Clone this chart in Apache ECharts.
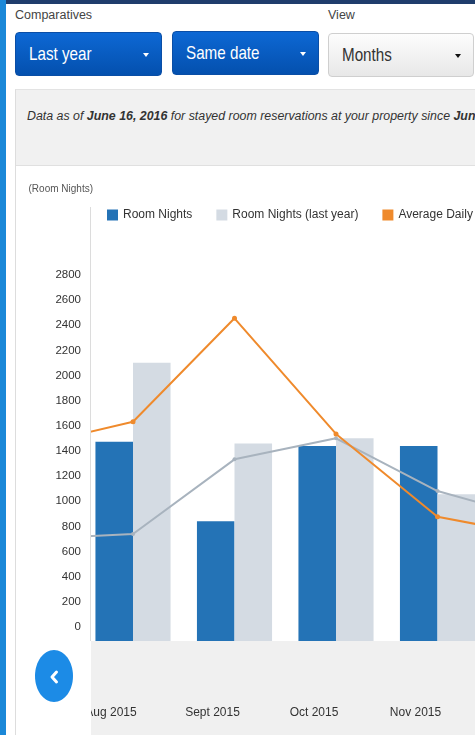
<!DOCTYPE html>
<html><head><meta charset="utf-8">
<script src="https://cdn.jsdelivr.net/npm/echarts@6/dist/echarts.min.js"></script>
<style>
html,body{margin:0;padding:0;width:475px;height:735px;overflow:hidden;background:#fff;font-family:"Liberation Sans",Arial,sans-serif;}
.abs{position:absolute;}
#strip{left:0;top:0;width:6px;height:735px;background:#1b88d8;}
#topbar{left:6px;top:0;width:469px;height:4px;background:#1f3d6c;}
.lbl{font-size:12.5px;color:#444;top:8px;}
.btn{top:32px;height:44px;width:147px;border-radius:4px;box-sizing:border-box;font-size:19px;line-height:42px;padding-left:13px;white-space:nowrap;}
.btn .t{display:inline-block;transform:scaleX(0.8);transform-origin:0 50%;}
.blue{background:linear-gradient(#0d68d4,#0450ae);color:#fff;border:1px solid #0a4ea6;}
.grey{background:linear-gradient(#fdfdfd,#e8e8e8);color:#333;border:1px solid #cfcfcf;}
.caret{position:absolute;right:12px;top:20px;width:0;height:0;border-left:3.5px solid transparent;border-right:3.5px solid transparent;border-top:4px solid #fff;}
.grey .caret{border-top-color:#111;}
#panel{left:15px;top:89px;width:470px;height:77px;background:#f1f1f1;border-top:1px solid #e3e3e3;border-bottom:1px solid #e0e0e0;border-left:1px solid #ddd;box-sizing:border-box;}
#ptext{position:absolute;left:11px;top:19px;font-size:12.5px;font-style:italic;color:#333;white-space:nowrap;transform:scaleX(0.99);transform-origin:0 50%;}
#vline{left:15px;top:165px;width:1px;height:570px;background:#ddd;}
#band{left:90px;top:641px;width:385px;height:94px;background:#f0f0f0;}
#chart{left:0;top:0;width:475px;height:735px;}
</style></head>
<body>
<div id="strip" class="abs"></div>
<div id="topbar" class="abs"></div>
<div class="abs lbl" style="left:15px;">Comparatives</div>
<div class="abs lbl" style="left:328px;">View</div>
<div class="abs btn blue" style="left:15px;"><span class="t">Last year</span><span class="caret"></span></div>
<div class="abs btn blue" style="left:172px;top:31px;"><span class="t">Same date</span><span class="caret"></span></div>
<div class="abs btn grey" style="left:328px;width:146px;top:33px;"><span class="t">Months</span><span class="caret"></span></div>
<div id="panel" class="abs"><div id="ptext">Data as of <b>June 16, 2016</b> for stayed room reservations at your property since <b>June 16, 2015</b></div></div>
<div id="vline" class="abs"></div>
<div id="band" class="abs"></div>
<div id="chart" class="abs"></div>
<script>
const months = ['July 2015', 'Aug 2015', 'Sept 2015', 'Oct 2015', 'Nov 2015', 'Dec 2015'];
const roomNights = [null, 1585, 952, 1551, 1551, null];
const roomNightsLastYear = [null, 2214, 1572, 1612, 1167, null];
const avgDailyRate = [155.4, 174.4, 256.7, 164.7, 98.9, 83.4];
const avgDailyRateLastYear = [81.2, 85.1, 144.5, 161.2, 119.3, 96.7];
const roomNightsTicks = { min: 0, max: 2800, interval: 200 };
const rateAxisRange = { min: 0, max: 280 };
const seriesNames = ['Room Nights', 'Room Nights (last year)', 'Average Daily Rate', 'Average Daily Rate (last year)'];

const regular = '"Liberation Sans", Arial, sans-serif';
const chart = echarts.init(document.getElementById('chart'), null, { renderer: 'canvas' });
chart.setOption({
  animation: false,
  backgroundColor: 'transparent',
  legend: {
    left: 107, top: 209, width: 1000, padding: 0, itemWidth: 11, itemHeight: 11, itemGap: 24, icon: 'rect',
    textStyle: { fontSize: 12, color: '#333', fontFamily: regular },
    data: seriesNames
  },
  grid: [
    { left: 90, top: 275, width: 10, height: 352, outerBoundsMode: 'none' },
    { left: -19.25, right: -114.75, top: 289, bottom: 94, outerBoundsMode: 'none' }
  ],
  xAxis: [
    { gridIndex: 0, type: 'value', show: false },
    { gridIndex: 1, type: 'category', data: months,
      axisLine: { show: false }, axisTick: { show: false }, splitLine: { show: false },
      axisLabel: { interval: 0, margin: 66, color: '#333', fontSize: 12, fontFamily: regular, padding: [0, 44, 0, 0],
        formatter: function (v, i) { return i === 0 ? '' : v; } } }
  ],
  yAxis: [
    { gridIndex: 0, type: 'value', min: roomNightsTicks.min, max: roomNightsTicks.max, interval: roomNightsTicks.interval, z: 6,
      axisLine: { show: false }, axisTick: { show: false }, splitLine: { show: false },
      axisLabel: { margin: 9, color: '#333', fontSize: 11.5, fontFamily: regular, formatter: function (v) { return String(v); } },
      name: '(Room Nights)', nameLocation: 'end', nameGap: 81,
      nameTextStyle: { align: 'right', fontSize: 10, color: '#555', fontFamily: regular, padding: [0, -3, 0, 0] } },
    { gridIndex: 1, type: 'value', min: roomNightsTicks.min, max: roomNightsTicks.max, show: false },
    { gridIndex: 1, type: 'value', min: rateAxisRange.min, max: rateAxisRange.max, show: false }
  ],
  graphic: [
    { type: 'rect', shape: { x: 16, y: 166, width: 75, height: 569 }, style: { fill: '#fff' }, z: 5 },
    { type: 'line', shape: { x1: 90.5, y1: 207, x2: 90.5, y2: 641 }, style: { stroke: '#dcdcdc', lineWidth: 1 }, z: 6 },
    { type: 'ellipse', shape: { cx: 54, cy: 676, rx: 19, ry: 26 }, style: { fill: '#1c8be6' }, z: 7 },
    { type: 'polyline', shape: { points: [[56.5, 672], [52, 677], [56.5, 682]] },
      style: { stroke: '#fff', lineWidth: 3, fill: null, lineCap: 'round', lineJoin: 'round' }, z: 8 }
  ],
  series: [
    { name: seriesNames[0], type: 'bar', xAxisIndex: 1, yAxisIndex: 1, data: roomNights,
      itemStyle: { color: '#2473b6' }, barGap: '0%', barCategoryGap: '26%' },
    { name: seriesNames[1], type: 'bar', xAxisIndex: 1, yAxisIndex: 1, data: roomNightsLastYear,
      itemStyle: { color: '#d4dbe3' }, barGap: '0%', barCategoryGap: '26%' },
    { name: seriesNames[3], type: 'line', xAxisIndex: 1, yAxisIndex: 2, data: avgDailyRateLastYear,
      itemStyle: { color: '#a8b3be' }, lineStyle: { width: 2, color: '#a8b3be' }, symbol: 'circle', symbolSize: 4, showSymbol: true },
    { name: seriesNames[2], type: 'line', xAxisIndex: 1, yAxisIndex: 2, data: avgDailyRate,
      itemStyle: { color: '#ef8a2c' }, lineStyle: { width: 2, color: '#ef8a2c' }, symbol: 'circle', symbolSize: 5, showSymbol: true }
  ]
});
</script>
</body></html>
